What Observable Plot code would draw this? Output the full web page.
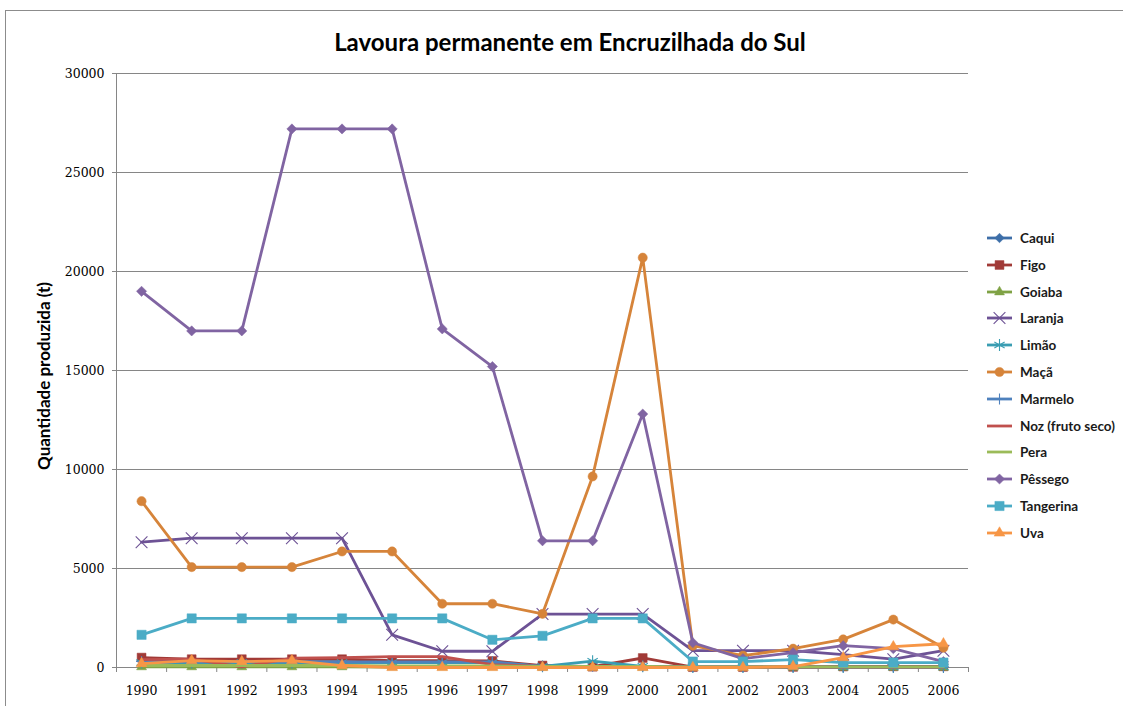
<!DOCTYPE html>
<html><head><meta charset="utf-8">
<script src="https://cdn.jsdelivr.net/npm/d3@7"></script>
<script src="https://cdn.jsdelivr.net/npm/@observablehq/plot@0.6"></script>
<style>
body{margin:0;background:#fff;}
#wrap{position:relative;width:1123px;height:706px;overflow:hidden;font-family:Lato,"Open Sans",sans-serif;}
#frame{position:absolute;left:5px;top:10px;width:1140px;height:720px;border:1px solid #8c8c8c;box-sizing:border-box;}
#title{position:absolute;left:0;width:1140px;top:27px;text-align:center;font-weight:bold;font-size:24px;color:#000;}
#ylab{position:absolute;left:43px;top:376px;transform:translate(-50%,-50%) rotate(-90deg);white-space:nowrap;font-weight:bold;font-size:17px;color:#000;}
#chart{position:absolute;left:0;top:0;}
#legend{position:absolute;left:985px;top:0;}
.lg{position:absolute;left:0;height:20px;display:flex;align-items:center;white-space:nowrap;font-weight:bold;font-size:13.5px;color:#1a1a1a;}
.lg svg{margin-right:7px;}
</style>
</head><body>
<div id="wrap">
  <div id="frame"></div>
  <div id="chart"></div>
  <div id="title">Lavoura permanente em Encruzilhada do Sul</div>
  <div id="ylab">Quantidade produzida (t)</div>
  <div id="legend"></div>
</div>
<script>
const years = [1990,1991,1992,1993,1994,1995,1996,1997,1998,1999,2000,2001,2002,2003,2004,2005,2006];
const yTicks = [0,5000,10000,15000,20000,25000,30000];

const caqui     = [350,300,300,300,300,250,250,250,60,60,60,30,30,30,30,30,30];
const figo      = [500,420,420,420,420,350,350,330,100,40,480,20,20,30,50,60,60];
const goiaba    = [30,30,30,30,30,20,20,20,10,10,10,5,5,5,5,5,5];
const laranja   = [6330,6530,6530,6530,6530,1650,820,820,2700,2700,2700,850,850,850,650,420,850];
const limao     = [250,250,250,250,250,250,250,250,60,320,60,20,20,20,20,20,20];
const maca      = [8400,5070,5070,5070,5860,5860,3220,3220,2710,9650,20700,1100,600,950,1420,2420,1000];
const marmelo   = [300,280,280,280,280,280,280,280,60,60,60,20,20,20,20,20,20];
const noz       = [400,420,30,470,500,550,550,150,50,30,30,20,20,20,20,20,20];
const pera      = [100,100,100,100,100,80,80,80,50,50,50,30,30,30,30,30,30];
const pessego   = [19000,17000,17000,27200,27200,27200,17100,15200,6400,6400,12800,1250,450,750,1100,950,300];
const tangerina = [1650,2480,2480,2480,2480,2480,2480,1400,1600,2480,2480,300,300,400,250,250,250];
const uva       = [200,350,300,350,100,0,0,0,0,0,0,0,0,50,500,1050,1200];

const names   = ["Caqui","Figo","Goiaba","Laranja","Limão","Maçã","Marmelo","Noz (fruto seco)","Pera","Pêssego","Tangerina","Uva"];
const values  = [caqui,figo,goiaba,laranja,limao,maca,marmelo,noz,pera,pessego,tangerina,uva];
const colors  = ["#3d6ea8","#a13a37","#7fa245","#6d5295","#3a9db2","#d6843a","#4f81bd","#c0504d","#9bbb59","#8064a2","#4bacc6","#f79646"];
const symbols = ["diamond2","square","triangle","times","asterisk","circle","plus",null,null,"diamond2","square","triangle"];
const radii   = [4.3,5,3.7,5.4,5.6,4.6,3.6,0,0,4.6,5.2,4];
const filled  = [true,true,true,false,false,true,false,false,false,true,true,true];

const series = names.map((n,i)=> years.map((yr,j)=>({name:n, year:yr, value:values[i][j]})));
const x0 = years[0]-0.5, x1 = years[years.length-1]+0.5;
const bounds = [...years.map(y=>y-0.5), x1];

const marks = [
  Plot.gridY(yTicks.slice(1), {stroke:"#868686", strokeOpacity:1, strokeWidth:1}),
  Plot.ruleX([x0], {stroke:"#868686"}),
  Plot.ruleY([0], {stroke:"#868686"}),
  Plot.axisY(yTicks, {tickSize:4, tickPadding:8, stroke:"#868686", label:null, tickFormat:d=>String(d)}),
  Plot.axisX(bounds, {tickSize:5, tickFormat:()=>"", stroke:"#868686", label:null}),
  Plot.axisX(years, {tickSize:0, tickPadding:19, tickFormat:d=>String(d), label:null})
];
series.forEach((s,i)=>{
  marks.push(Plot.line(s, {x:"year", y:"value", stroke:colors[i], strokeWidth:2.8, curve:"linear"}));
  if (symbols[i]) {
    marks.push(Plot.dot(s, {x:"year", y:"value", symbol:symbols[i], r:radii[i],
      fill: filled[i] ? colors[i] : "none", stroke: colors[i],
      strokeWidth: filled[i] ? 0.5 : 1.1}));
  }
});

const plot = Plot.plot({
  width:1123, height:706,
  marginLeft:116, marginRight:155, marginTop:73, marginBottom:39,
  x:{domain:[x0,x1], axis:null},
  y:{domain:[0,30000], axis:null},
  style:{fontFamily:"'DejaVu Serif', serif", fontSize:"12.5px", color:"#000", background:"transparent"},
  marks
});
document.getElementById("chart").appendChild(plot);

// legend
const lg = d3.select("#legend");
const symMap = {diamond2:d3.symbolDiamond2, square:d3.symbolSquare, triangle:d3.symbolTriangle,
  times:d3.symbolTimes, asterisk:d3.symbolAsterisk, circle:d3.symbolCircle, plus:d3.symbolPlus};
names.forEach((n,i)=>{
  const row = lg.append("div").attr("class","lg").style("top",(228 + i*26.8)+"px");
  const svg = row.append("svg").attr("width",28).attr("height",14);
  svg.append("line").attr("x1",2).attr("x2",27).attr("y1",7).attr("y2",7)
    .attr("stroke",colors[i]).attr("stroke-width",2.8);
  if (symbols[i]) {
    svg.append("path").attr("transform","translate(14.5,7)")
      .attr("d", d3.symbol(symMap[symbols[i]], Math.PI*radii[i]*radii[i])())
      .attr("fill", filled[i]?colors[i]:"none").attr("stroke",colors[i])
      .attr("stroke-width", filled[i]?0.5:1.1);
  }
  row.append("span").text(n);
});
</script>
</body></html>
